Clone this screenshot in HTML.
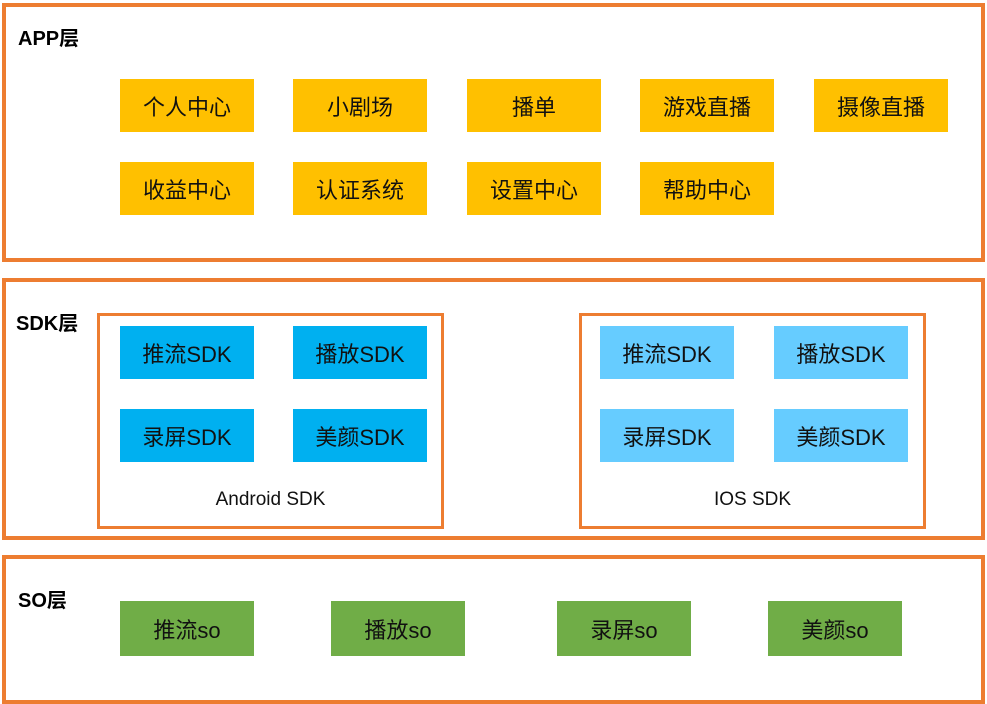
<!DOCTYPE html>
<html><head><meta charset="utf-8"><style>
body{margin:0;width:987px;height:704px;background:#fff;position:relative;overflow:hidden;font-family:"Liberation Sans","Noto Sans CJK SC",sans-serif}
.o{position:absolute;border:4px solid #ED7D31;box-sizing:border-box}
.i{position:absolute;border:3px solid #ED7D31;box-sizing:border-box}
.b{position:absolute;display:flex;align-items:center;justify-content:center;font-size:22px;color:#111;width:134px;height:53px}
.y{background:#FFC000}.d{background:#00B0F0}.l{background:#66CCFF}.g{background:#70AD47}
.t{position:absolute;font-weight:bold;font-size:20px;color:#000}
.c{position:absolute;font-size:19px;color:#111;text-align:center}
</style></head><body>
<div class="o" style="left:2px;top:3px;width:983px;height:259px"></div>
<div class="o" style="left:2px;top:278px;width:983px;height:262px"></div>
<div class="o" style="left:2px;top:555px;width:983px;height:149px"></div>
<div class="t" style="left:18px;top:22px">APP层</div>
<div class="t" style="left:16px;top:307px">SDK层</div>
<div class="t" style="left:18px;top:584px">SO层</div>
<div class="b y" style="left:120px;top:79px">个人中心</div>
<div class="b y" style="left:293px;top:79px">小剧场</div>
<div class="b y" style="left:467px;top:79px">播单</div>
<div class="b y" style="left:640px;top:79px">游戏直播</div>
<div class="b y" style="left:814px;top:79px">摄像直播</div>
<div class="b y" style="left:120px;top:162px">收益中心</div>
<div class="b y" style="left:293px;top:162px">认证系统</div>
<div class="b y" style="left:467px;top:162px">设置中心</div>
<div class="b y" style="left:640px;top:162px">帮助中心</div>
<div class="i" style="left:97px;top:313px;width:347px;height:216px"></div>
<div class="i" style="left:579px;top:313px;width:347px;height:216px"></div>
<div class="b d" style="left:120px;top:326px">推流SDK</div>
<div class="b d" style="left:293px;top:326px">播放SDK</div>
<div class="b d" style="left:120px;top:409px">录屏SDK</div>
<div class="b d" style="left:293px;top:409px">美颜SDK</div>
<div class="c" style="left:97px;width:347px;top:489px">Android SDK</div>
<div class="b l" style="left:600px;top:326px">推流SDK</div>
<div class="b l" style="left:774px;top:326px">播放SDK</div>
<div class="b l" style="left:600px;top:409px">录屏SDK</div>
<div class="b l" style="left:774px;top:409px">美颜SDK</div>
<div class="c" style="left:579px;width:347px;top:489px">IOS SDK</div>
<div class="b g" style="left:120px;top:601px;height:55px">推流so</div>
<div class="b g" style="left:331px;top:601px;height:55px">播放so</div>
<div class="b g" style="left:557px;top:601px;height:55px">录屏so</div>
<div class="b g" style="left:768px;top:601px;height:55px">美颜so</div>
</body></html>
